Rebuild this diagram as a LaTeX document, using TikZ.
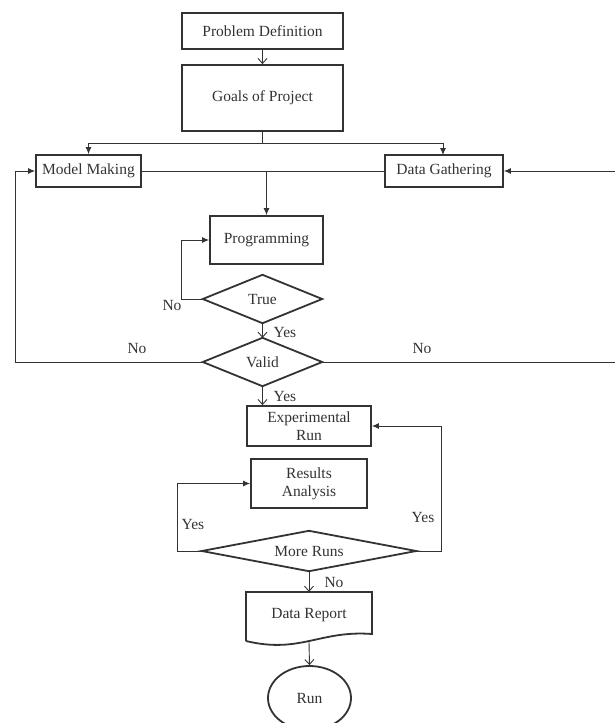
\documentclass[tikz,border=0pt]{standalone}
\usepackage{fontspec}
\setmainfont{Liberation Serif}
\usetikzlibrary{arrows.meta,shapes.geometric}
\definecolor{ink}{HTML}{333333}
\begin{document}
\begin{tikzpicture}[x=1pt,y=-1pt,
  every node/.style={font=\fontsize{15.5}{18}\selectfont, text=ink},
  box/.style={draw=ink, line width=1.8pt, rectangle, inner sep=0pt, align=center},
  dia/.style={rectangle, inner sep=0pt, align=center},
  conn/.style={draw=ink, line width=0.9pt},
  farr/.style={conn, -{Latex[length=7pt,width=6pt]}},
  oarr/.style={conn, -{Straight Barb[length=5pt,width=9pt]}},
  dline/.style={draw=ink, line width=1.8pt, line join=miter},
  lbl/.style={inner sep=0pt}
]
\useasboundingbox (0,0) rectangle (614,723);
\node[box, minimum width=161, minimum height=36] (pd) at (262.5,31) {Problem Definition};
\node[box, minimum width=161, minimum height=66] (goals) at (262.5,98) {Goals of Project};
\node[box, minimum width=105, minimum height=32] (mm) at (88.5,171) {Model Making};
\node[box, minimum width=118, minimum height=32] (dg) at (444,171) {Data Gathering};
\node[box, minimum width=113, minimum height=48] (prog) at (266.5,240) {Programming};
\node[dia, minimum width=119, minimum height=48] (true) at (262.5,299) {True};
\draw[dline] (true.north) -- (true.east) -- (true.south) -- (true.west) -- cycle;
\node[dia, minimum width=119, minimum height=48] (valid) at (262.5,362) {Valid};
\draw[dline] (valid.north) -- (valid.east) -- (valid.south) -- (valid.west) -- cycle;
\node[box, minimum width=124, minimum height=40] (exp) at (309,426) {Experimental\\Run};
\node[box, minimum width=116, minimum height=49] (res) at (309,483.5) {Results\\Analysis};
\node[dia, minimum width=214, minimum height=40] (more) at (309,551) {More Runs};
\draw[dline] (more.north) -- (more.east) -- (more.south) -- (more.west) -- cycle;
\node[inner sep=0pt, minimum width=126, minimum height=46] (dr) at (309,615) {Data Report};
\draw[dline] (246,641) -- (246,592) -- (372,592) -- (372,634)
  .. controls (320,630) and (300,654) .. (246,641);
\node[draw=ink, line width=1.8pt, ellipse, minimum width=83, minimum height=64, inner sep=0pt] (run) at (309.5,698) {Run};

\coordinate (split) at (262.5,143);
\coordinate (join) at (266.5,171);
\coordinate (drb) at (309,642);

\draw[oarr] (pd.south) -- (goals.north);
\draw[conn] (goals.south) -- (split);
\draw[farr] (split) -| (mm.north);
\draw[farr] (split) -| (443,155);
\draw[conn] (mm.east) -- (dg.west);
\draw[farr] (join) -- (prog.north);
\draw[farr] (true.west) -- ++(-21,0) |- (prog.west);
\node[lbl] (n1) at (172,305) {No};
\draw[oarr] (true.south) -- (valid.north);
\node[lbl] (y1) at (285,332) {Yes};
\draw[farr] (valid.west) -- (15,362) |- (mm.west);
\draw[farr] (valid.east) -- (615,362) |- (dg.east);
\node[lbl] (n2) at (137,348) {No};
\node[lbl] (n3) at (422,348) {No};
\draw[oarr] (valid.south) -- (valid.south |- exp.north);
\node[lbl] (y2) at (285,396) {Yes};
\draw[farr] (more.east) -- (441,551) |- (exp.east);
\node[lbl] (y3) at (423,517) {Yes};
\draw[farr] (more.west) -- (177,551) |- (res.west);
\node[lbl] (y4) at (193,524) {Yes};
\draw[oarr] (more.south) -- (more.south |- dr.north);
\node[lbl] (n4) at (334,582) {No};
\draw[oarr] (drb) -- (run.north);
\end{tikzpicture}
\end{document}
